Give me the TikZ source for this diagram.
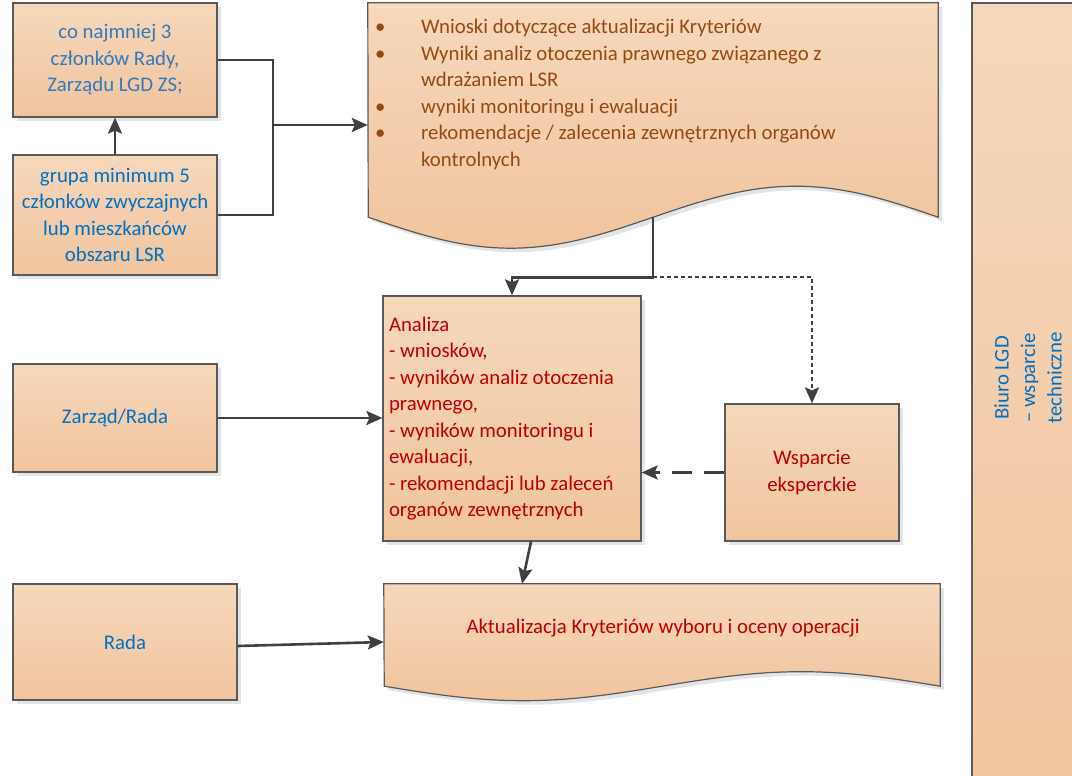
\documentclass[tikz,border=0pt]{standalone}
\usepackage{fontspec}
\setmainfont{Carlito}
\usetikzlibrary{arrows.meta, shadows}

\definecolor{boxtop}{RGB}{246,216,188}
\definecolor{boxbot}{RGB}{240,196,158}
\definecolor{edge}{RGB}{89,89,89}
\definecolor{linia}{RGB}{64,64,64}
\definecolor{cien}{RGB}{228,228,228}
\definecolor{braz}{RGB}{150,72,18}
\definecolor{czerwony}{RGB}{192,0,0}
\definecolor{niebieski}{RGB}{0,112,192}
\definecolor{niebieski2}{RGB}{52,120,190}

\newcommand{\boxfont}{\fontsize{20.8}{26.5}\selectfont}
\newcommand{\punkt}{\makebox[46pt][l]{\textbullet}}
% outline of a document shape: node, quarter width, wave height
\newcommand{\docshape}[3]{(#1.north west) -- (#1.north east) -- (#1.south east)
  sin ++(-#2,-#3) cos ++(-#2,#3) sin ++(-#2,#3) cos ++(-#2,-#3) -- cycle}

\begin{document}
\begin{tikzpicture}[x=1pt, y=-1pt,
    blok/.style={draw=edge, line width=1.2pt, top color=boxtop, bottom color=boxbot,
      drop shadow={shadow xshift=4pt, shadow yshift=-4pt, fill=cien, opacity=1},
      inner sep=6pt, align=center, font=\boxfont},
    conn/.style={draw=linia, line width=2.6pt, -{Stealth[length=16pt,width=14pt,inset=3pt]}},
    kropki/.style={dash pattern=on 4pt off 3pt, line width=2.4pt},
    kreski/.style={dash pattern=on 20pt off 12pt}]
    \useasboundingbox (0,0) rectangle (1072,776);

    % Who can file the motion
    \node[blok, minimum width=204pt, minimum height=114pt, text=niebieski2] (czlonkowie) at (115,60)
        {co najmniej 3\\członków Rady,\\Zarządu LGD ZS;};
    \node[blok, minimum width=204pt, minimum height=120pt, text=niebieski] (grupa) at (115,215)
        {grupa minimum 5\\członków zwyczajnych\\lub mieszkańców\\obszaru LSR};
    \node[blok, minimum width=204pt, minimum height=108pt, text=niebieski] (zarzad) at (115,418) {Zarząd/Rada};
    \node[blok, minimum width=224pt, minimum height=116pt, text=niebieski] (rada) at (125,642) {Rada};

    % Input document
    \node[inner sep=0, minimum width=570pt, minimum height=214pt] (wnioski) at (653,110) {};
    \fill[cien, transform canvas={xshift=4pt, yshift=-4pt}] \docshape{wnioski}{142.5}{31};
    \path[draw=edge, line width=1.2pt, top color=boxtop, bottom color=boxbot] \docshape{wnioski}{142.5}{31};
    \node[anchor=north west, inner sep=0, align=flush left, font=\boxfont, text=braz] (wnioskitxt) at (375,19)
        {\punkt Wnioski dotyczące aktualizacji Kryteriów\\
         \punkt Wyniki analiz otoczenia prawnego związanego z\\
         \hspace*{46pt}wdrażaniem LSR\\
         \punkt wyniki monitoringu i ewaluacji\\
         \punkt rekomendacje / zalecenia zewnętrznych organów\\
         \hspace*{46pt}kontrolnych};

    % Analysis
    \node[blok, minimum width=258pt, minimum height=245pt, text width=246pt, align=flush left, text=czerwony] (analiza) at (512,418.5)
        {Analiza\\- wniosków,\\- wyników analiz otoczenia\\prawnego,\\- wyników monitoringu i\\ewaluacji,\\- rekomendacji lub zaleceń\\organów zewnętrznych};
    \node[blok, minimum width=174pt, minimum height=137pt, text=czerwony] (wsparcie) at (812,472.5) {Wsparcie\\eksperckie};

    % Output document
    \node[inner sep=0, minimum width=556pt, minimum height=102pt] (aktualizacja) at (662,635) {};
    \fill[cien, transform canvas={xshift=4pt, yshift=-4pt}] \docshape{aktualizacja}{139}{14.5};
    \path[draw=edge, line width=1.2pt, top color=boxtop, bottom color=boxbot] \docshape{aktualizacja}{139}{14.5};
    \node[font=\boxfont, text=czerwony] (aktualizacjatxt) at (663,628) {Aktualizacja Kryteriów wyboru i oceny operacji};

    % Office bar
    \node[draw=edge, line width=1.2pt, top color=boxtop, bottom color=boxbot, minimum width=128pt, minimum height=797pt] (biuro) at (1036,401.5) {};
    \node[rotate=90, align=center, font=\boxfont, text=niebieski] (biurotxt) at (1028,378) {Biuro LGD\\– wsparcie\\techniczne};

    % Connectors
    \coordinate (zbieg) at (273,125);
    \draw[conn] (grupa) -- (czlonkowie);
    \draw[conn, -] (czlonkowie.east) -| (zbieg);
    \draw[conn, -] (grupa.east) -| (zbieg);
    \draw[conn] (zbieg) -- (zbieg -| wnioski.west);
    \path (wnioski.south) ++(0,60) coordinate (rozwidlenie);
    \draw[conn] (wnioski.south) -- (rozwidlenie) -| (analiza.north);
    \draw[conn, kropki] (rozwidlenie) -| (wsparcie.north);
    \draw[conn] (zarzad.east) -- (zarzad.east -| analiza.west);
    \draw[conn, kreski] (wsparcie.west) -- (wsparcie.west -| analiza.east);
    \draw[conn] ([xshift=19pt]analiza.south) -- ([xshift=-140pt]aktualizacja.north);
    \draw[conn] ([yshift=-4pt]rada.east) -- (rada.east -| aktualizacja.west);
\end{tikzpicture}
\end{document}
